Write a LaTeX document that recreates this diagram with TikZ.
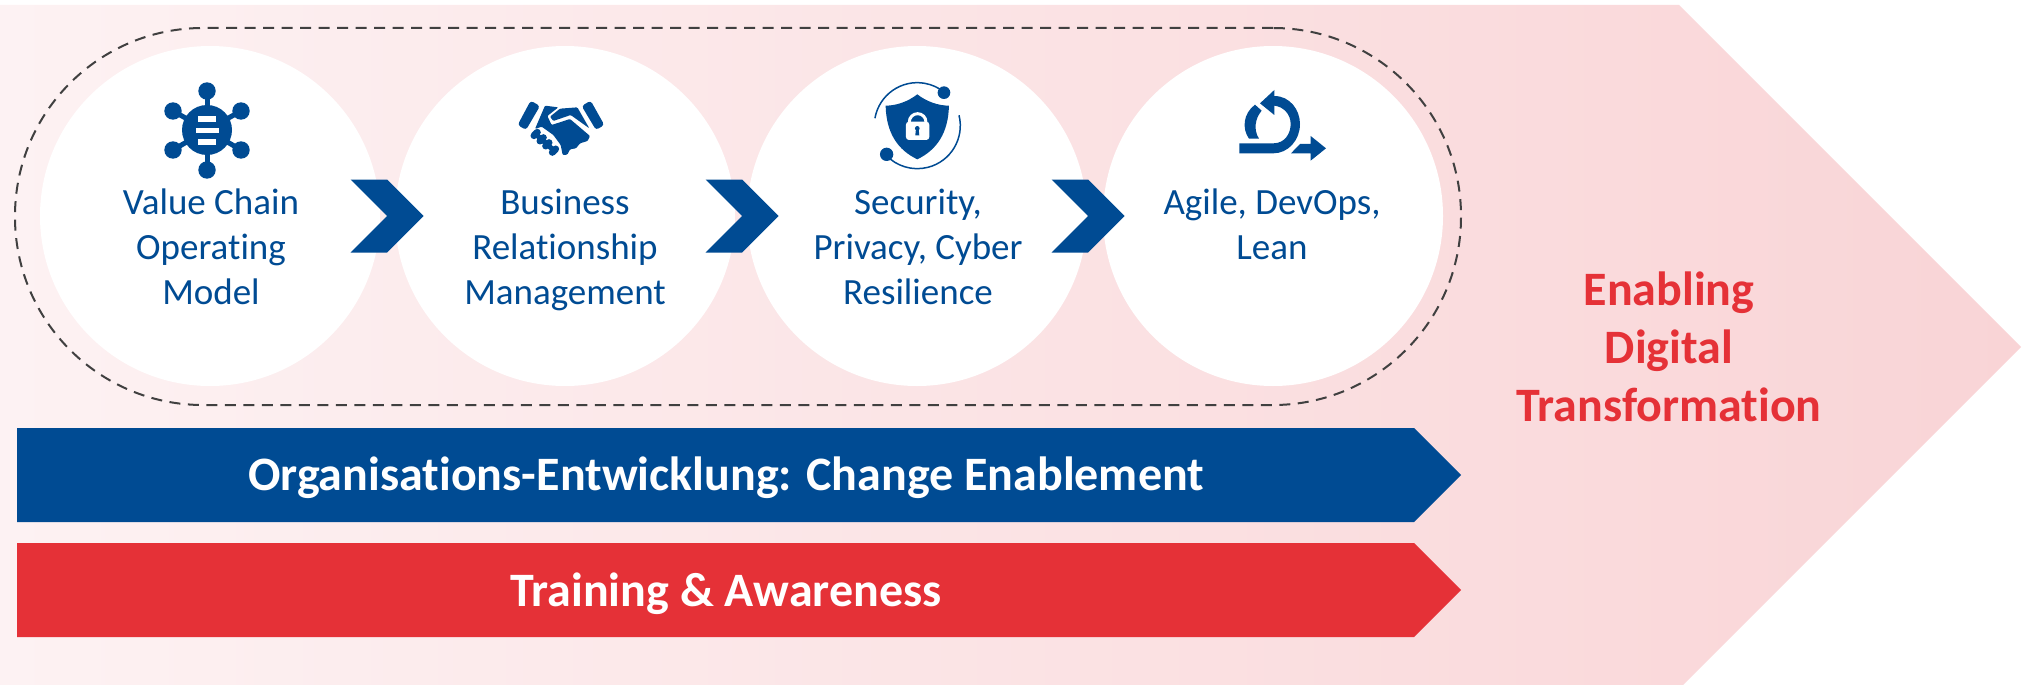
\documentclass[tikz,border=0pt]{standalone}
\usepackage{fontspec}
\setmainfont[Ligatures=NoCommon]{Carlito}
\usetikzlibrary{positioning,shapes.symbols}
\definecolor{navy}{HTML}{004B93}
\definecolor{alert}{HTML}{E53137}
\definecolor{dashgrey}{HTML}{404040}
\definecolor{pinkleft}{HTML}{FDF2F3}
\definecolor{pinkright}{HTML}{F9D4D6}
\tikzset{
  stagecircle/.style={circle, fill=white, minimum size=340pt, inner sep=0pt, outer sep=0pt},
  stagetext/.style={text=navy, font=\fontsize{37}{45}\selectfont, align=center, anchor=north, inner sep=0pt},
  stagearrow/.style={shape=signal, signal to=east, signal from=west, signal pointer angle=90, fill=navy, minimum width=72pt, minimum height=73pt, inner sep=0pt, outer sep=0pt},
  bararrow/.style={shape=signal, signal to=east, signal pointer angle=90, minimum width=1444pt, minimum height=94pt, inner sep=0pt, outer sep=0pt},
  bartext/.style={text=white, font=\fontsize{48}{56}\selectfont\bfseries},
}
\begin{document}
\begin{tikzpicture}[x=1pt,y=-1pt]
  \useasboundingbox (0,0) rectangle (2037,685);
  \clip (0,0) rectangle (2037,685);
  \node (bigarrow) [shape=signal, signal to=east, signal pointer angle=90, left color=pinkleft, right color=pinkright, minimum width=2021pt, minimum height=684pt, inner sep=0pt, outer sep=0pt, anchor=west] at (0,347) {};
  \node (pill) [draw=dashgrey, line width=2pt, dash pattern=on 11pt off 7.5pt, rounded corners=188pt, minimum width=1446pt, minimum height=377pt, inner sep=0pt] at (738,216.5) {};

  \node (vc) [stagecircle] at (210,216) {};
  \node (brm) [stagecircle, right=15pt of vc] {};
  \node (sec) [stagecircle, right=12pt of brm] {};
  \node (agile) [stagecircle, right=16pt of sec] {};

  \node (vcarrow) [stagearrow] at (387,216) {};
  \node (brmarrow) [stagearrow] at (742,216) {};
  \node (secarrow) [stagearrow] at (1088,216) {};

  \node (vctext) [stagetext] at (211,189) {Value Chain\\Operating\\Model};
  \node (brmtext) [stagetext] at (565,189) {Business\\Relationship\\Management};
  \node (sectext) [stagetext] at (918,189) {Security,\\Privacy, Cyber\\Resilience};
  \node (agiletext) [stagetext] at (1272,189) {Agile, DevOps,\\Lean};

  \node (change) [bararrow, fill=navy, anchor=west] at (17,475) {};
  \node (training) [bararrow, fill=alert, anchor=west] at (17,590) {};
  \node (changetext) [bartext] at (726,478) {Organisations-Entwicklung: Change Enablement};
  \node (trainingtext) [bartext] at (726,594) {Training \& Awareness};
  \node (enabling) [text=alert, align=center, font=\fontsize{48}{58}\selectfont\bfseries] at (1669,347) {Enabling\\Digital\\Transformation};

  \begin{scope}[navy, fill=navy, line width=5pt]
    \fill (207,130) circle (25);
    \foreach \px/\py in {207/91, 207/170, 173/111, 241/111, 173/150, 241/150} {
      \draw (207,130) -- (\px,\py);
      \fill (\px,\py) circle (8.7);
    }
    \fill[white] (198,116) rectangle (216,122);
    \fill[white] (196,128) rectangle (219,133);
    \fill[white] (198,139) rectangle (216,145);
  \end{scope}

  \begin{scope}[shift={(490,60)}, x=.3333pt, y=-.3333pt]
    \fill[navy, rounded corners=3pt] (122,122) -- (150,138) -- (108,210) -- (83,195) -- cycle;
    \fill[navy, rounded corners=3pt] (302,122) -- (275,138) -- (318,210) -- (343,195) -- cycle;
    \fill[navy, rounded corners=1pt] (165,137) -- (205,142) -- (172,168) -- (185,195) -- (240,177) -- (300,228) -- (293,243) -- (270,250) -- (258,265) -- (240,268) -- (232,284) -- (218,285) -- (212,255) -- (190,225) -- (155,200) -- (135,207) -- cycle;
    \fill[navy, rounded corners=1pt] (210,146) -- (262,142) -- (298,205) -- (242,165) -- (190,183) -- (180,170) -- cycle;
    \draw[navy, line width=5pt] (137,222) -- (192,272);
    \foreach \px/\py in {137/222, 155/238, 172/253, 192/272} {
      \draw[navy, line width=7pt, line cap=round] (\px-5,\py+5) -- (\px+5,\py-5);
    }
  \end{scope}

  \begin{scope}[shift={(490,60)}, x=.3333pt, y=-.3333pt]
    \fill[navy] (1282,103) .. controls (1310,125) and (1345,137) .. (1377,137) .. controls (1375,220) and (1340,270) .. (1282,298) .. controls (1224,270) and (1189,220) .. (1187,137) .. controls (1219,137) and (1254,125) .. (1282,103) -- cycle;
    \fill[white, rounded corners=3pt] (1248,185) rectangle (1318,240);
    \draw[white, line width=3pt] (1258,186) arc (-180:0:25);
    \fill[navy] (1282,205) circle (7);
    \fill[navy] (1278,207) -- (1286,207) -- (1288,226) -- (1276,226) -- cycle;
    \draw[navy, line width=1.5pt] ([shift={(1282,197)}] -170:129) arc (-170:-51:129);
    \fill[navy] (1362,98) circle (19);
    \draw[navy, line width=1.5pt] ([shift={(1282,197)}] -14:129) arc (-14:137:129);
    \fill[navy] (1190,283) circle (20);
  \end{scope}

  \begin{scope}[shift={(1220,80)}, x=.3333pt, y=-.3333pt]
    \fill[navy] (58,190) -- (160,190) .. controls (195,190) and (212,160) .. (212,132) .. controls (212,102) and (190,80) .. (163,77) -- (163,105) -- (120,70) -- (163,30) -- (163,48) .. controls (210,48) and (240,90) .. (240,132) .. controls (240,180) and (205,220) .. (160,220) -- (58,220) -- cycle;
    \fill[navy] (105,74) -- (125,92) .. controls (105,115) and (100,150) .. (117,176) -- (87,176) .. controls (65,145) and (70,100) .. (105,74) -- cycle;
    \fill[navy] (213,220) -- (240,192) -- (272,192) -- (272,168) -- (318,205) -- (272,242) -- (272,220) -- cycle;
  \end{scope}
\end{tikzpicture}
\end{document}
